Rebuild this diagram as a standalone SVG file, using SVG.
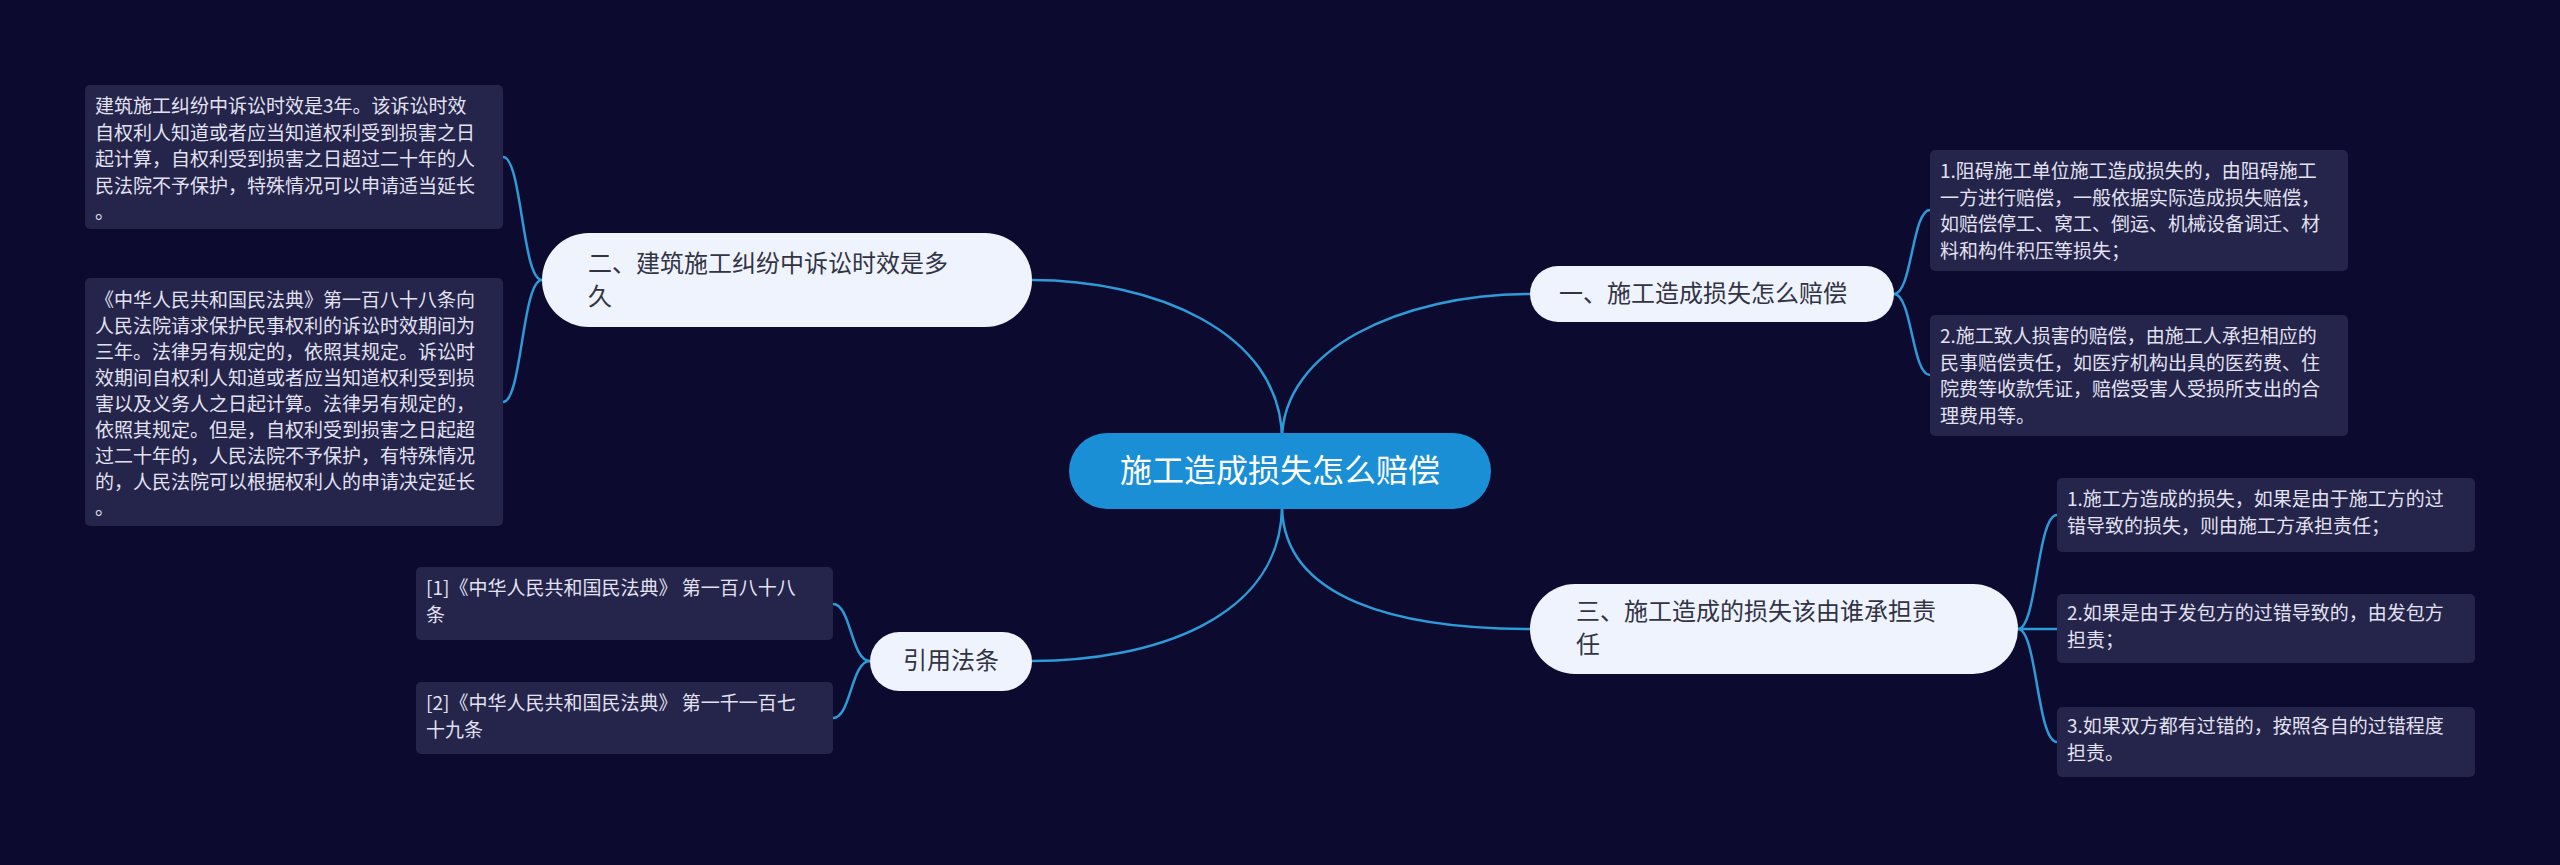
<svg xmlns="http://www.w3.org/2000/svg" width="2560" height="865" viewBox="0 0 2560 865">
<style>
.bg{fill:#0c0a2e}
.leaf rect{fill:#25244a}
.leaf text{fill:#e2e2f2;font:19px "Noto Sans CJK SC","Liberation Sans",sans-serif}
.main rect{fill:#eef3fe}
.main text{fill:#333344;font:24px "Noto Sans CJK SC","Liberation Sans",sans-serif}
.c{fill:none;stroke:#2c9bd8;stroke-width:2.5}
</style>
<rect class="bg" width="2560" height="865"/>
<g id="connectors">
<path class="c" d="M1282,440 C1282,350 1400,294 1530,294"/>
<path class="c" d="M1282,440 C1282,330 1150,280 1032,280"/>
<path class="c" d="M1282,505 C1282,600 1400,629 1530,629"/>
<path class="c" d="M1282,505 C1282,620 1150,661 1032,661"/>
<path class="c" d="M1894,294 C1912,294 1912,210 1930,210"/>
<path class="c" d="M1894,294 C1912,294 1912,375 1930,375"/>
<path class="c" d="M2018,629 C2037,629 2037,515 2057,515"/>
<path class="c" d="M2018,629 L2057,629"/>
<path class="c" d="M2018,629 C2037,629 2037,742 2057,742"/>
<path class="c" d="M542,280 C522,280 522,157 503,157"/>
<path class="c" d="M542,280 C522,280 522,402 503,402"/>
<path class="c" d="M870,661 C851,661 851,604 833,604"/>
<path class="c" d="M870,661 C851,661 851,718 833,718"/>
</g>
<g id="center"><rect x="1069" y="433" width="422" height="76" rx="38" fill="#1a8fd6"/>
<text x="1280" y="482" text-anchor="middle" fill="#fff" style="font:32px 'Noto Sans CJK SC','Liberation Sans',sans-serif">施工造成损失怎么赔偿</text></g>
<g id="n1" class="main"><rect x="1530" y="266" width="364" height="56" rx="28"/><text x="1559" y="302">一、施工造成损失怎么赔偿</text></g>
<g id="n3" class="main"><rect x="1530" y="584" width="488" height="90" rx="45"/><text x="1576" y="620">三、施工造成的损失该由谁承担责</text><text x="1576" y="653">任</text></g>
<g id="n2" class="main"><rect x="542" y="233" width="490" height="94" rx="47"/><text x="588" y="272">二、建筑施工纠纷中诉讼时效是多</text><text x="588" y="305">久</text></g>
<g id="nref" class="main"><rect x="870" y="632" width="162" height="59" rx="29.5"/><text x="951" y="669" text-anchor="middle">引用法条</text></g>
<g id="r1a" class="leaf"><rect x="1930" y="150" width="418" height="121" rx="5"/>
<text x="1940" y="178">1.阻碍施工单位施工造成损失的，由阻碍施工</text><text x="1940" y="204.5">一方进行赔偿，一般依据实际造成损失赔偿，</text><text x="1940" y="231">如赔偿停工、窝工、倒运、机械设备调迁、材</text><text x="1940" y="257.5">料和构件积压等损失；</text></g>
<g id="r1b" class="leaf"><rect x="1930" y="315" width="418" height="121" rx="5"/>
<text x="1940" y="343">2.施工致人损害的赔偿，由施工人承担相应的</text><text x="1940" y="369.5">民事赔偿责任，如医疗机构出具的医药费、住</text><text x="1940" y="396">院费等收款凭证，赔偿受害人受损所支出的合</text><text x="1940" y="422.5">理费用等。</text></g>
<g id="r3a" class="leaf"><rect x="2057" y="478" width="418" height="74" rx="5"/>
<text x="2067" y="506">1.施工方造成的损失，如果是由于施工方的过</text><text x="2067" y="532.5">错导致的损失，则由施工方承担责任；</text></g>
<g id="r3b" class="leaf"><rect x="2057" y="594" width="418" height="69" rx="5"/>
<text x="2067" y="620">2.如果是由于发包方的过错导致的，由发包方</text><text x="2067" y="646.5">担责；</text></g>
<g id="r3c" class="leaf"><rect x="2057" y="707" width="418" height="70" rx="5"/>
<text x="2067" y="733">3.如果双方都有过错的，按照各自的过错程度</text><text x="2067" y="759.5">担责。</text></g>
<g id="l2a" class="leaf"><rect x="85" y="85" width="418" height="144" rx="5"/>
<text x="95" y="113">建筑施工纠纷中诉讼时效是3年。该诉讼时效</text><text x="95" y="139.5">自权利人知道或者应当知道权利受到损害之日</text><text x="95" y="166">起计算，自权利受到损害之日超过二十年的人</text><text x="95" y="192.5">民法院不予保护，特殊情况可以申请适当延长</text><text x="95" y="219">。</text></g>
<g id="l2b" class="leaf"><rect x="85" y="278" width="418" height="248" rx="5"/>
<text x="95" y="307">《中华人民共和国民法典》第一百八十八条向</text><text x="95" y="333">人民法院请求保护民事权利的诉讼时效期间为</text><text x="95" y="359">三年。法律另有规定的，依照其规定。诉讼时</text><text x="95" y="385">效期间自权利人知道或者应当知道权利受到损</text><text x="95" y="411">害以及义务人之日起计算。法律另有规定的，</text><text x="95" y="437">依照其规定。但是，自权利受到损害之日起超</text><text x="95" y="463">过二十年的，人民法院不予保护，有特殊情况</text><text x="95" y="489">的，人民法院可以根据权利人的申请决定延长</text><text x="95" y="515">。</text></g>
<g id="ref1" class="leaf"><rect x="416" y="567" width="417" height="73" rx="5"/>
<text x="426" y="595">[1]《中华人民共和国民法典》 第一百八十八</text><text x="426" y="621.5">条</text></g>
<g id="ref2" class="leaf"><rect x="416" y="682" width="417" height="72" rx="5"/>
<text x="426" y="710">[2]《中华人民共和国民法典》 第一千一百七</text><text x="426" y="736.5">十九条</text></g>
</svg>
